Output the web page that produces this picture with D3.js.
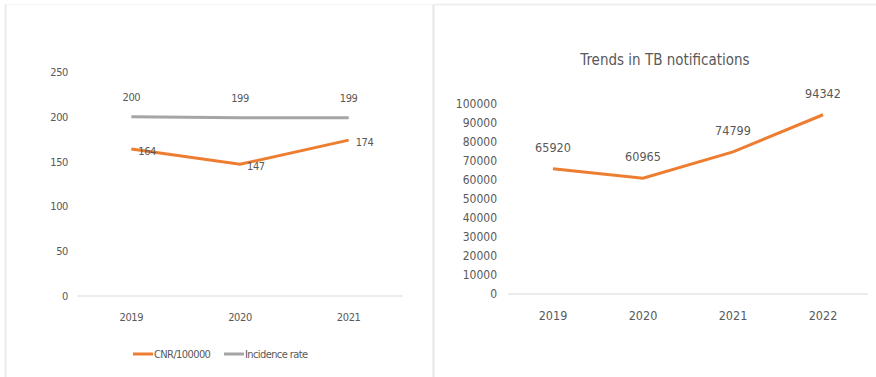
<!DOCTYPE html>
<html>
<head>
<meta charset="utf-8">
<script src="https://cdn.jsdelivr.net/npm/d3@7"></script>
<style>
  body { margin: 0; background: #fff; }
  text { font-family: "DejaVu Sans Condensed", "Liberation Sans Narrow", sans-serif; fill: #595959; }
  .small text, text.small { font-size: 11px; letter-spacing: -0.4px; }
  .axis path, .axis line { display: none; }
</style>
</head>
<body>
<svg id="chart" width="876" height="377"></svg>
<script>
'use strict'
// left chart
let yearsA = ["2019", "2020", "2021"]
let cnr = [164, 147, 174]
let incidence = [200, 199, 199]
let ticksA = [0, 50, 100, 150, 200, 250]

// right chart
let yearsB = ["2019", "2020", "2021", "2022"]
let notifications = [65920, 60965, 74799, 94342]
let ticksB = [0, 10000, 20000, 30000, 40000, 50000, 60000, 70000, 80000, 90000, 100000]

let orange = "#ed7d31", grey = "#a5a5a5"
let svg = d3.select("#chart")

// faint panel borders
svg.append("line").attr("x1", 5.5).attr("x2", 5.5).attr("y1", 4).attr("y2", 377).attr("stroke", "#ececec").attr("stroke-width", 2)
svg.append("line").attr("x1", 5).attr("x2", 432).attr("y1", 4.5).attr("y2", 4.5).attr("stroke", "#f3f3f3")
svg.append("line").attr("x1", 433.5).attr("x2", 433.5).attr("y1", 4).attr("y2", 377).attr("stroke", "#e6e6e6").attr("stroke-width", 2)
svg.append("line").attr("x1", 435).attr("x2", 876).attr("y1", 4.5).attr("y2", 4.5).attr("stroke", "#ececec").attr("stroke-width", 1.5)

// ---- left panel ----
let xA = d3.scaleBand().domain(yearsA).range([77, 403])
let yA = d3.scaleLinear().domain([0, 250]).range([296, 72])

let gA = svg.append("g").attr("class", "small")
gA.append("g").attr("class", "axis").attr("transform", "translate(68,0)")
  .call(d3.axisLeft(yA).tickValues(ticksA).tickSize(0).tickPadding(0))
gA.append("line").attr("x1", 77).attr("x2", 403).attr("y1", yA(0)).attr("y2", yA(0))
  .attr("stroke", "#d9d9d9").attr("stroke-width", 1)
gA.append("g").attr("class", "axis").attr("transform", "translate(0,313)")
  .call(d3.axisBottom(xA).tickSize(0).tickPadding(0))
gA.selectAll(".axis text").attr("font-size", null).attr("font-family", null)

let lineA = d3.line().x((d, i) => xA(yearsA[i]) + xA.bandwidth() / 2).y(d => yA(d))
gA.append("path").datum(incidence).attr("d", lineA).attr("fill", "none")
  .attr("stroke", grey).attr("stroke-width", 3)
gA.append("path").datum(cnr).attr("d", lineA).attr("fill", "none")
  .attr("stroke", orange).attr("stroke-width", 3)

gA.selectAll(".lblInc").data(incidence).enter().append("text")
  .attr("x", (d, i) => xA(yearsA[i]) + xA.bandwidth() / 2)
  .attr("y", d => yA(d) - 16)
  .attr("text-anchor", "middle").text(d => d)
gA.selectAll(".lblCnr").data(cnr).enter().append("text")
  .attr("x", (d, i) => xA(yearsA[i]) + xA.bandwidth() / 2 + 7)
  .attr("y", d => yA(d) + 6)
  .text(d => d)

// legend
let legend = [["CNR/100000", orange], ["Incidence rate", grey]]
let legX = [133, 224]
legend.forEach((l, i) => {
  svg.append("line").attr("x1", legX[i]).attr("x2", legX[i] + 20).attr("y1", 354).attr("y2", 354)
    .attr("stroke", l[1]).attr("stroke-width", 3)
  svg.append("text").attr("class", "small").attr("x", legX[i] + 21).attr("y", 358)
    .style("letter-spacing", "-0.6px").text(l[0])
})

// ---- right panel ----
let xB = d3.scaleBand().domain(yearsB).range([508, 868])
let yB = d3.scaleLinear().domain([0, 100000]).range([294, 104])

let gB = svg.append("g")
gB.append("text").attr("x", 665).attr("y", 65).attr("text-anchor", "middle")
  .style("font-size", "15px").text("Trends in TB notifications")
gB.append("g").attr("class", "axis").attr("transform", "translate(497,0)")
  .call(d3.axisLeft(yB).tickValues(ticksB).tickSize(0).tickPadding(0).tickFormat(d3.format("d")))
  .selectAll("text").attr("font-family", null).style("font-size", "12px")
gB.append("line").attr("x1", 508).attr("x2", 868).attr("y1", yB(0)).attr("y2", yB(0))
  .attr("stroke", "#d9d9d9").attr("stroke-width", 1)
gB.append("g").attr("class", "axis").attr("transform", "translate(0,311)")
  .call(d3.axisBottom(xB).tickSize(0).tickPadding(0))
  .selectAll("text").attr("font-family", null).style("font-size", "12.5px")

let lineB = d3.line().x((d, i) => xB(yearsB[i]) + xB.bandwidth() / 2).y(d => yB(d))
gB.append("path").datum(notifications).attr("d", lineB).attr("fill", "none")
  .attr("stroke", orange).attr("stroke-width", 3)
gB.selectAll(".lblN").data(notifications).enter().append("text")
  .attr("x", (d, i) => xB(yearsB[i]) + xB.bandwidth() / 2)
  .attr("y", d => yB(d) - 17)
  .attr("text-anchor", "middle").style("font-size", "12.5px").text(d => d)
</script>
</body>
</html>
